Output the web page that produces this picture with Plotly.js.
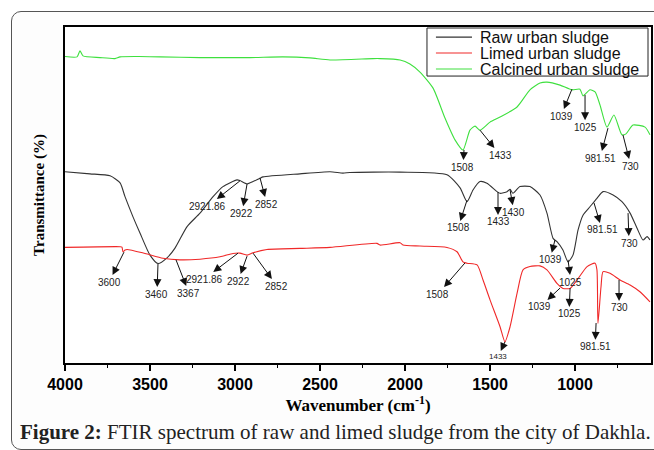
<!DOCTYPE html>
<html>
<head>
<meta charset="utf-8">
<script src="https://cdn.plot.ly/plotly-3.0.1.min.js"></script>
<style>
  html, body { margin: 0; padding: 0; background: #ffffff; }
  #frame { position: absolute; left: 11px; top: 11px; width: 660px; height: 437px;
           border: 1px solid #555; border-radius: 10px; background: #fdfdfd; }
  #chart { position: absolute; left: 0; top: 0; width: 654px; height: 450px; }
</style>
</head>
<body>
<div id="frame"></div>
<div id="chart"></div>
<script>
// ---------------- DATA ----------------
const seriesNames = ["Raw urban sludge", "Limed urban sludge", "Calcined urban sludge"];
const seriesColors = ["#333333", "#f02828", "#3ee03e"];

// Raw urban sludge: wavenumber (cm-1) and transmittance (arbitrary %, offset)
const rawWn = [4000, 3853, 3735, 3676, 3647, 3600, 3559, 3500, 3453, 3400, 3353, 3282, 3206, 3129, 3071,
  2988, 2971, 2929, 2894, 2853, 2835, 2618, 2441, 2365, 2324, 2029, 1753, 1676, 1635, 1600, 1559,
  1518, 1459, 1441, 1400, 1382, 1365, 1324, 1265, 1206, 1165, 1129, 1106, 1071, 1041, 1012, 982,
  953, 912, 871, 835, 776, 724, 676, 635, 600, 576, 559];
const rawT = [56.9, 56.3, 55.7, 53.6, 49.5, 43.5, 38.7, 32.1, 29.6, 31.3, 34.2, 40.6, 44.6, 49.5, 52.5,
  54.5, 54.3, 53.3, 54.0, 55.0, 55.4, 56.3, 56.9, 56.5, 56.7, 56.8, 56.0, 52.1, 48.0, 51.5, 54.0,
  53.5, 51.0, 50.5, 51.0, 51.7, 50.5, 52.5, 52.5, 50.0, 44.6, 37.1, 36.1, 33.6, 30.1, 32.1, 39.6,
  44.0, 46.5, 49.0, 51.0, 50.0, 48.0, 44.6, 40.1, 36.6, 37.6, 36.6];

// Limed urban sludge
const limedWn = [4000, 3676, 3665, 3659, 3647, 3635, 3529, 3424, 3324, 3206, 3088, 3012, 2971, 2929,
  2894, 2812, 2618, 2441, 2165, 2147, 2029, 2012, 1912, 1753, 1694, 1659, 1635, 1576, 1541, 1500,
  1441, 1412, 1382, 1341, 1306, 1265, 1206, 1165, 1106, 1071, 1029, 988, 929, 882, 871, 865, 847,
  835, 794, 735, 676, 618, 559];
const limedT = [34.4, 34.6, 34.5, 33.1, 33.6, 33.8, 32.6, 31.2, 30.7, 30.9, 31.6, 32.6, 32.7, 32.1,
  32.8, 33.8, 34.1, 34.4, 35.6, 35.1, 35.8, 35.1, 34.8, 34.4, 33.1, 30.1, 29.7, 29.2, 24.7, 18.8,
  10.8, 6.3, 10.8, 20.7, 27.7, 28.7, 28.9, 27.7, 23.7, 22.2, 22.2, 24.7, 28.7, 29.7, 27.7, 11.8, 22.7,
  27.2, 26.7, 24.7, 23.2, 21.2, 18.2];

// Calcined urban sludge
const calcWn = [4000, 3929, 3912, 3894, 3794, 3706, 3676, 3565, 3441, 3206, 2912, 2718, 2559, 2441,
  2188, 2147, 2029, 1971, 1912, 1835, 1765, 1706, 1659, 1618, 1588, 1559, 1500, 1441, 1341, 1265,
  1206, 1165, 1088, 1018, 971, 953, 912, 882, 853, 812, 771, 724, 700, 659, 588, 559];
const calcT = [91.2, 91.1, 92.9, 91.4, 90.9, 90.6, 91.1, 91.2, 91.1, 90.9, 90.9, 91.1, 90.8, 90.2,
  90.6, 90.6, 90.2, 89.0, 86.6, 81.8, 72.9, 66.4, 63.4, 69.3, 70.5, 69.3, 71.7, 73.2, 76.2, 81.3,
  83.3, 83.6, 82.7, 81.3, 81.5, 79.5, 81.3, 80.7, 76.8, 70.2, 73.8, 67.9, 68.2, 70.8, 70.2, 67.9];

// Peak labels: text, point on curve (wn, T) and label position (wn, T)
const peakText = ["1508", "1433", "1039", "1025", "981.51", "730",
  "3460", "2921.86", "2922", "2852", "1508", "1433", "1430", "1039", "1025", "981.51", "730",
  "3600", "3367", "2921.86", "2922", "2852", "1508", "1433", "1039", "1025", "981.51", "730"];
const peakWn = [1653, 1559, 1018, 941, 806, 718,
  3453, 2971, 2929, 2853, 1635, 1453, 1382, 1118, 1041, 888, 688,
  3653, 3347, 2982, 2929, 2894, 1647, 1412, 1088, 1029, 876, 741];
const peakT = [63.4, 69.3, 81.5, 79.8, 69.9, 67.9,
  29.5, 54.2, 53.3, 55.1, 48.5, 50.9, 51.5, 36.6, 30.7, 47.6, 44.6,
  33.0, 30.7, 32.7, 31.8, 32.7, 29.8, 6.3, 22.3, 22.3, 11.9, 24.7];
const labelWn = [1659, 1441, 1082, 941, 853, 671,
  3459, 3159, 2959, 2812, 1688, 1453, 1359, 1147, 1024, 841, 682,
  3741, 3271, 3182, 2982, 2753, 1806, 1453, 1206, 1035, 882, 741];
const labelT = [58.3, 61.9, 73.5, 70.2, 61.0, 58.6,
  20.5, 46.7, 44.6, 47.3, 40.2, 42.0, 44.9, 30.7, 24.1, 39.6, 35.7,
  24.1, 20.8, 25.0, 24.4, 22.9, 20.5, 1.8, 16.7, 14.6, 4.8, 16.4];
const labelSize = [10, 10, 10, 10, 10, 10,
  10, 10, 10, 10, 10, 10, 10, 10, 10, 10, 10,
  10, 10, 10, 10, 10, 10, 8, 10, 10, 10, 10];

const xTickVals = [4000, 3500, 3000, 2500, 2000, 1500, 1000];
const xTickText = ["4000", "3500", "3000", "2500", "2000", "1500", "1000"];

// ---------------- CHART ----------------
const xs = [rawWn, limedWn, calcWn];
const ys = [rawT, limedT, calcT];
const traces = seriesNames.map((n, i) => ({
  type: "scatter", mode: "lines", name: n, x: xs[i], y: ys[i],
  line: { color: seriesColors[i], width: 1.1, shape: "spline", smoothing: 0.6 },
  showlegend: false, hoverinfo: "skip"
}));

const annotations = peakText.map((t, i) => ({
  x: peakWn[i], y: peakT[i], xref: "x", yref: "y",
  ax: labelWn[i], ay: labelT[i], axref: "x", ayref: "y",
  text: t, showarrow: true, arrowside: "start",
  startarrowhead: 2, startarrowsize: 1.6, arrowwidth: 1, arrowcolor: "#111",
  font: { family: "Liberation Sans, Arial, sans-serif", size: labelSize[i], color: "#222" }
}));

// custom legend (compact rows as in the reference)
const legX0 = 0.6177, legX1 = 0.9949, legY0 = 0.854, legY1 = 0.997;
const rowY = [0.970, 0.9226, 0.875];
const shapes = [{
  type: "rect", xref: "paper", yref: "paper", x0: legX0, x1: legX1, y0: legY0, y1: legY1,
  line: { color: "#222", width: 1 }, fillcolor: "rgba(255,255,255,0)"
}];
seriesNames.forEach((n, i) => {
  shapes.push({ type: "line", xref: "paper", yref: "paper", x0: 0.633, x1: 0.6945, y0: rowY[i], y1: rowY[i],
    line: { color: seriesColors[i], width: 1.2 } });
  annotations.push({ xref: "paper", yref: "paper", x: 0.7048, y: rowY[i], xanchor: "left", yanchor: "middle",
    text: n, showarrow: false,
    font: { family: "Liberation Sans, Arial, sans-serif", size: 16, color: "#111" } });
});

// caption
annotations.push({
  xref: "paper", yref: "paper", x: -0.0802, y: -0.2054, xanchor: "left", yanchor: "middle",
  text: "<b>Figure 2:</b> FTIR spectrum of raw and limed sludge from the city of Dakhla.",
  showarrow: false, font: { family: "Liberation Serif, Times New Roman, serif", size: 21, color: "#222" }
});

const layout = {
  width: 654, height: 450,
  margin: { l: 65, r: 3, t: 27, b: 87, pad: 0 },
  paper_bgcolor: "rgba(0,0,0,0)", plot_bgcolor: "#ffffff",
  showlegend: false,
  xaxis: {
    range: [4000, 553], autorange: false,
    tickvals: xTickVals, ticktext: xTickText,
    ticks: "outside", ticklen: 6, tickwidth: 2, tickcolor: "#000",
    minor: { dtick: 250, tick0: 0, ticks: "outside", ticklen: 3, tickwidth: 1.5, tickcolor: "#000", showgrid: false },
    showline: true, linewidth: 2, linecolor: "#000", mirror: true,
    showgrid: false, zeroline: false,
    tickfont: { family: "Liberation Sans, Arial, sans-serif", size: 16, weight: "bold", color: "#000" },
    title: { text: "Wavenumber (cm<sup>-1</sup>)", standoff: 4,
      font: { family: "Liberation Serif, Times New Roman, serif", size: 17, weight: "bold", color: "#000" } }
  },
  yaxis: {
    range: [0, 100], autorange: false,
    showticklabels: false, ticks: "",
    showline: true, linewidth: 2, linecolor: "#000", mirror: true,
    showgrid: false, zeroline: false,
    title: { text: "Transmittance (%)", standoff: 15,
      font: { family: "Liberation Serif, Times New Roman, serif", size: 15, weight: "bold", color: "#000" } }
  },
  shapes: shapes,
  annotations: annotations
};

Plotly.newPlot("chart", traces, layout, { displayModeBar: false, staticPlot: true });
</script>
</body>
</html>
